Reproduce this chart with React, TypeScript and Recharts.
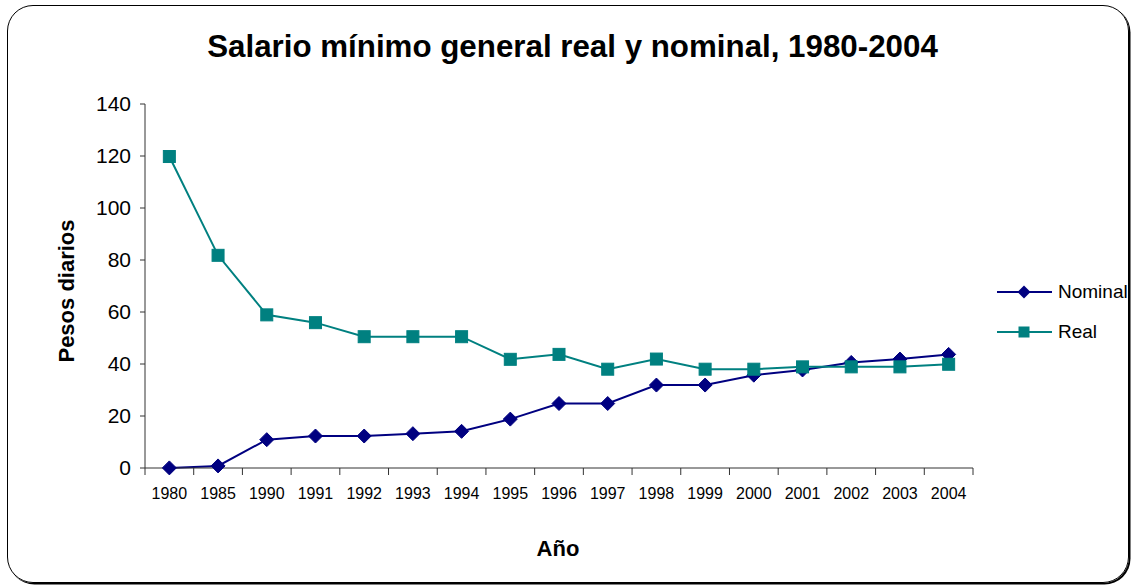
import { LineChart, Line, XAxis, YAxis } from "recharts";

const years = ["1980", "1985", "1990", "1991", "1992", "1993", "1994", "1995", "1996", "1997", "1998", "1999", "2000", "2001", "2002", "2003", "2004"];
const nominal = [0.04, 0.8, 10.9, 12.3, 12.3, 13.2, 14.1, 18.8, 24.8, 24.8, 31.9, 31.9, 35.7, 37.7, 40.6, 41.9, 43.7];
const real = [119.8, 81.8, 58.9, 55.9, 50.5, 50.5, 50.5, 41.8, 43.7, 38.0, 41.9, 38.0, 38.0, 38.9, 38.9, 38.9, 39.9];
const yTicks = [0, 20, 40, 60, 80, 100, 120, 140];

const NAVY = "#000080";
const TEAL = "#008080";
const FONT = "'Liberation Sans', Arial, sans-serif";

const W = 1133;
const H = 586;
const MARGIN = { top: 104, right: 160, bottom: 88, left: 85 };
const Y_WIDTH = 60;
const PLOT_W = W - MARGIN.left - Y_WIDTH - MARGIN.right;
const SLOT = PLOT_W / years.length;

// category i sits in the middle of its slot [i, i+1]; ticks mark slot edges
const data = years.map((year, i) => ({ year, pos: i + 0.5, nominal: nominal[i], real: real[i] }));
const slotTicks = years.map((_, i) => i).concat(years.length);

const YearTick = (props: any) => {
  const { x, y, payload } = props;
  const label = years[payload.value];
  if (!label) return null;
  return (
    <text x={x + SLOT / 2} y={y} dy="0.71em" textAnchor="middle" fill="#000" fontSize={16} fontFamily={FONT}>
      {label}
    </text>
  );
};

const Diamond = (props: any) => {
  const { cx, cy, index } = props;
  if (cx == null || cy == null) return null;
  const r = 7;
  return (
    <polygon
      key={`d-${index}`}
      points={`${cx},${cy - r} ${cx + r},${cy} ${cx},${cy + r} ${cx - r},${cy}`}
      fill={NAVY}
      stroke={NAVY}
    />
  );
};

const Square = (props: any) => {
  const { cx, cy, index } = props;
  if (cx == null || cy == null) return null;
  const r = 6;
  return <rect key={`s-${index}`} x={cx - r} y={cy - r} width={r * 2} height={r * 2} fill={TEAL} stroke={TEAL} />;
};

const legendItems = [
  { name: "Nominal", color: NAVY, shape: "d" },
  { name: "Real", color: TEAL, shape: "s" },
];

const LegendBox = () => (
  <div style={{ position: "absolute", left: 973, top: 272, width: 160, fontFamily: FONT, fontSize: 19, color: "#000" }}>
    {legendItems.map((it) => (
      <div key={it.name} style={{ display: "flex", alignItems: "center", height: 40, whiteSpace: "nowrap" }}>
        <svg width={85} height={20} style={{ flex: "none" }}>
          <line x1={24} y1={10} x2={79} y2={10} stroke={it.color} strokeWidth={2} />
          {it.shape === "d" ? (
            <polygon points="51,3.5 57.5,10 51,16.5 44.5,10" fill={it.color} />
          ) : (
            <rect x={45.5} y={4.5} width={11} height={11} fill={it.color} />
          )}
        </svg>
        <span>{it.name}</span>
      </div>
    ))}
  </div>
);

export default function App() {
  return (
    <div style={{ position: "absolute", left: 0, top: 0, width: W, height: H, background: "#fff", fontFamily: FONT }}>
      <div
        style={{
          position: "absolute",
          left: 7,
          top: 5,
          width: 1122,
          height: 578,
          boxSizing: "border-box",
          border: "1.5px solid #000",
          borderRadius: 26,
          boxShadow: "1.5px 1.5px 0 #000",
        }}
      />
      <div
        style={{
          position: "absolute",
          left: 0,
          top: 31,
          width: 1145,
          textAlign: "center",
          fontSize: 31.3,
          lineHeight: "31px",
          fontWeight: "bold",
          whiteSpace: "nowrap",
        }}
      >
        Salario mínimo general real y nominal, 1980-2004
      </div>
      <div
        style={{
          position: "absolute",
          left: 67,
          top: 291,
          transform: "translate(-50%, -50%) rotate(-90deg)",
          fontSize: 22,
          fontWeight: "bold",
          whiteSpace: "nowrap",
        }}
      >
        Pesos diarios
      </div>
      <div
        style={{
          position: "absolute",
          left: 558,
          top: 549,
          transform: "translate(-50%, -50%)",
          fontSize: 22,
          fontWeight: "bold",
          whiteSpace: "nowrap",
        }}
      >
        Año
      </div>
      <div style={{ position: "absolute", left: 0, top: 0 }}>
        <LineChart width={W} height={H} data={data} margin={MARGIN}>
          <XAxis
            type="number"
            dataKey="pos"
            domain={[0, years.length]}
            ticks={slotTicks}
            allowDataOverflow
            interval={0}
            height={30}
            tickSize={7}
            tickMargin={13}
            stroke="#333"
            tick={<YearTick />}
          />
          <YAxis
            type="number"
            domain={[0, 140]}
            ticks={yTicks}
            width={Y_WIDTH}
            tickSize={5}
            tickMargin={9}
            stroke="#333"
            tick={{ fill: "#000", fontSize: 21, fontFamily: FONT }}
          />
          <Line
            dataKey="nominal"
            name="Nominal"
            type="linear"
            stroke={NAVY}
            strokeWidth={2}
            dot={Diamond}
            isAnimationActive={false}
          />
          <Line
            dataKey="real"
            name="Real"
            type="linear"
            stroke={TEAL}
            strokeWidth={2}
            dot={Square}
            isAnimationActive={false}
          />
        </LineChart>
      </div>
      <LegendBox />
    </div>
  );
}
